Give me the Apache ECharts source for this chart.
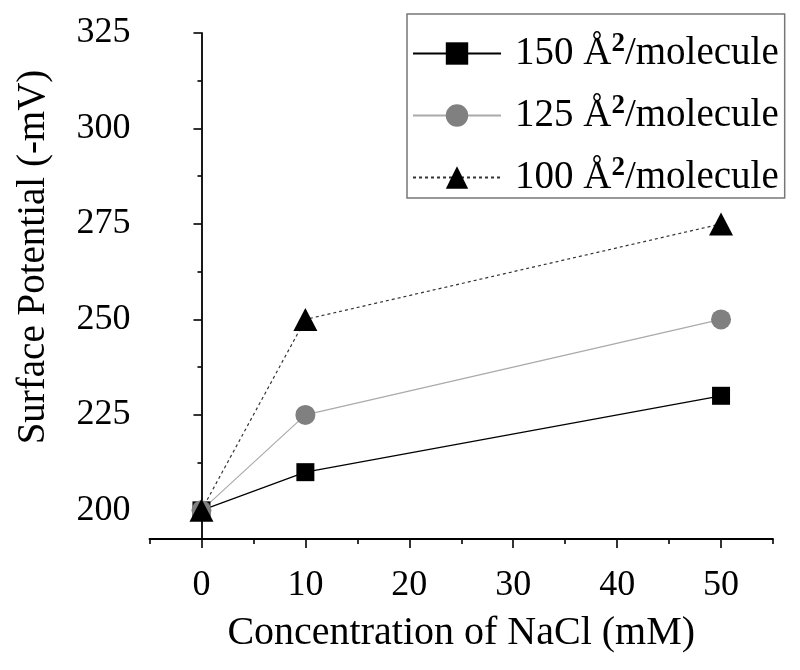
<!DOCTYPE html>
<html><head><meta charset="utf-8">
<script src="https://cdn.jsdelivr.net/npm/echarts@6/dist/echarts.min.js"></script>
<style>html,body{margin:0;padding:0;background:#fff}#c{width:800px;height:670px}</style>
</head><body><div id="c"></div>
<script>
const xValues = [0, 10, 50];
const s150 = [200, 210, 230];
const s125 = [200, 225, 250];
const s100 = [200, 250, 275];
const seriesNames = ['150', '125', '100'];
const xMajor = [0, 10, 20, 30, 40, 50];
const xMinor = [-5, 5, 15, 25, 35, 45, 55];
const yMajor = [200, 225, 250, 275, 300, 325];
const yMinor = [212.5, 237.5, 262.5, 287.5, 312.5];

const F = 'Liberation Serif';
const chart = echarts.init(document.getElementById('c'), null, {renderer: 'canvas'});
const pair = (vals) => xValues.map((x, i) => [x, vals[i]]);
const axisLineStyle = {color: '#000', width: 1.8};

chart.setOption({
  animation: false,
  backgroundColor: '#fff',
  grid: {left: 149.5, right: 27, top: 33, bottom: 131},
  xAxis: [{
    type: 'value', min: -5, max: 55, position: 'bottom',
    axisLine: {show: true, lineStyle: axisLineStyle},
    axisTick: {show: true, inside: false, length: 9, lineStyle: {color: '#000', width: 1.6}, customValues: xMajor},
    axisLabel: {customValues: xMajor, color: '#000', fontFamily: F, fontSize: 36, margin: 29},
    splitLine: {show: false},
    name: 'Concentration of NaCl (mM)', nameLocation: 'middle', nameGap: 74,
    nameTextStyle: {color: '#000', fontFamily: F, fontSize: 40}
  }, {
    type: 'value', min: -5, max: 55, position: 'bottom', gridIndex: 0,
    axisLine: {show: false},
    axisTick: {show: true, length: 5, lineStyle: {color: '#000', width: 1.6}, customValues: xMinor},
    axisLabel: {show: false}, splitLine: {show: false}
  }],
  yAxis: [{
    type: 'value', min: 192.5, max: 325, position: 'left',
    axisLine: {show: true, lineStyle: axisLineStyle},
    axisTick: {show: true, length: 8, lineStyle: {color: '#000', width: 1.6}, customValues: yMajor},
    axisLabel: {customValues: yMajor, color: '#000', fontFamily: F, fontSize: 36, margin: 19},
    splitLine: {show: false},
    name: 'Surface Potential (-mV)', nameLocation: 'middle', nameGap: 96, nameRotate: 90,
    nameTextStyle: {color: '#000', fontFamily: F, fontSize: 39, padding: [0, 0, 0, 58]}
  }, {
    type: 'value', min: 192.5, max: 325, position: 'left', gridIndex: 0,
    axisLine: {show: false},
    axisTick: {show: true, length: 4, lineStyle: {color: '#000', width: 1.6}, customValues: yMinor},
    axisLabel: {show: false}, splitLine: {show: false}
  }],
  legend: {
    orient: 'vertical', left: 407, top: 14,
    borderColor: '#777', borderWidth: 1.5, padding: [17, 6, 1, 5],
    itemWidth: 88, itemHeight: 28, itemGap: 20,
    data: seriesNames,
    formatter: (n) => '{s|}{a|' + n + ' Å}{sup|2}{a|/molecule}',
    textStyle: {
      color: '#000', fontFamily: F, fontSize: 39,
      rich: {
        s: {width: 9},
        a: {fontFamily: F, fontSize: 39, color: '#000', lineHeight: 40},
        sup: {fontFamily: F, fontSize: 27, fontWeight: 'bold', color: '#000', verticalAlign: 'bottom', padding: [0, 0, 18, 0]}
      }
    }
  },
  series: [{
    name: '150', type: 'line', data: pair(s150),
    symbol: 'rect', symbolSize: 18,
    lineStyle: {color: '#000', width: 1.2},
    itemStyle: {color: '#000'}
  }, {
    name: '125', type: 'line', data: pair(s125),
    symbol: 'circle', symbolSize: 20,
    lineStyle: {color: '#aaa', width: 1.2},
    itemStyle: {color: '#808080'}
  }, {
    name: '100', type: 'line', data: pair(s100),
    symbol: 'triangle', symbolSize: [24, 23],
    lineStyle: {color: '#333', width: 1.2, type: [3, 3]},
    itemStyle: {color: '#000'}
  }]
});
</script>
</body></html>
